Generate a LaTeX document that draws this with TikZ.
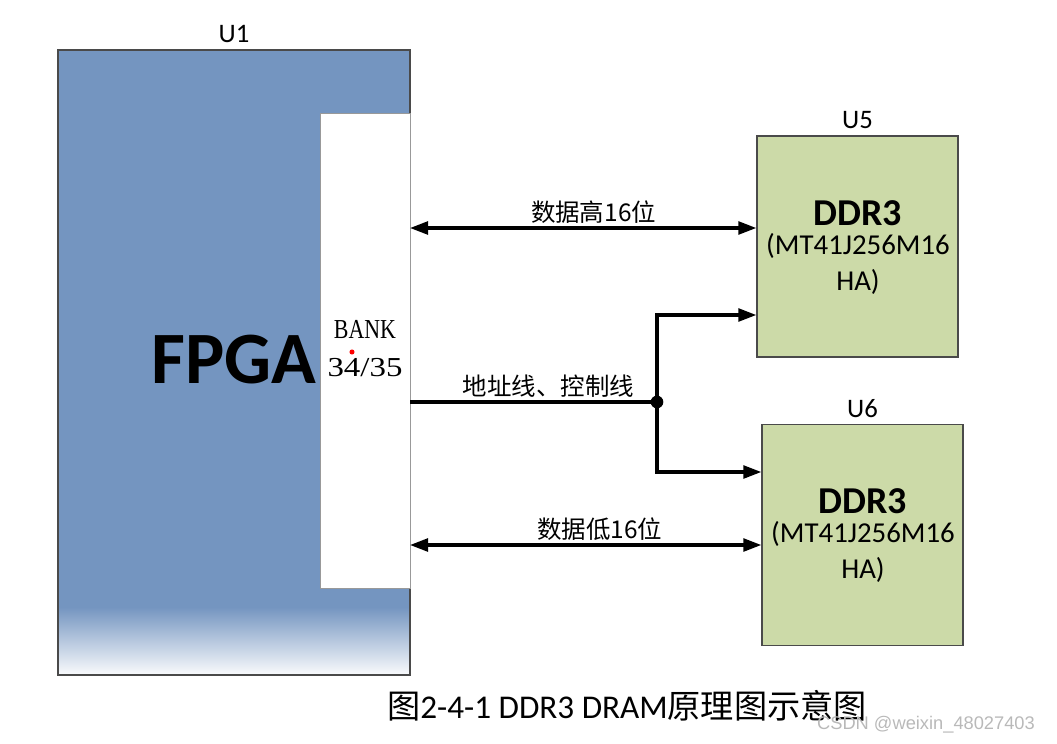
\documentclass[tikz,border=0pt]{standalone}
\usepackage{fontspec}
\setmainfont{Carlito}
\newfontfamily\cjk{Noto Sans CJK SC}
\newfontfamily\serifbank{Liberation Serif}
\newfontfamily\wmfont{Liberation Sans}
\usetikzlibrary{arrows.meta,positioning,calc}

\definecolor{fpgablue}{HTML}{7495C0}
\definecolor{ddrgreen}{HTML}{CCDAA8}
\definecolor{edgegray}{HTML}{4A4A4A}

\begin{document}
\begin{tikzpicture}[
    x=0.025cm, y=-0.025cm,
    chip/.style={draw=edgegray, line width=0.9pt, inner sep=0pt},
    ddr/.style={chip, fill=ddrgreen, minimum width=5.025cm, minimum height=5.525cm, align=center},
    tag/.style={font=\fontsize{19}{22}\selectfont},
    bus/.style={line width=2.2pt, {Triangle[length=4.5mm,width=3.2mm]}-{Triangle[length=4.5mm,width=3.2mm]}},
    ctl/.style={line width=2.2pt, -{Triangle[length=4.5mm,width=3.2mm]}},
    lbl/.style={font=\cjk\fontsize{17.4}{20}\selectfont, inner sep=2pt}
]
\useasboundingbox (0,0) rectangle (1057,743);

% FPGA body with fading bottom
\fill[fpgablue] (58,50) rectangle (410,608);
\shade[top color=fpgablue, bottom color=fpgablue!4] (58,607) rectangle (410,675);
\node[chip, draw=edgegray, fill=none, minimum width=8.8cm, minimum height=15.625cm] (fpga) at (234,362.5) {};
\node[tag, above=1pt of fpga.north] (u1) {U1};
\node[font=\bfseries\fontsize{52.5}{60}\selectfont] (fpgatxt) at (234,360) {FPGA};

% bank
\node[chip, draw=gray!80, fill=white, line width=0.6pt, minimum width=2.25cm, minimum height=11.875cm] (bank) at (365,350.5) {};
\node[font=\serifbank\fontsize{19.5}{27}\selectfont, align=center] (banktxt) at (365,349) {\scalebox{0.8}[1]{BANK}\\\scalebox{1.2}[1]{34/35}};
\fill[red] (352,352) circle (1.8pt);

% DDR3 chips
\node[ddr] (u5) at (857.5,246.5) {};
\node[ddr] (u6) at (862.5,535) {};
\node[tag, above=1pt of u5.north] (u5t) {U5};
\node[tag, above=1pt of u6.north] (u6t) {U6};
\node[font=\bfseries\fontsize{27}{30}\selectfont] (u5a) at (858,213) {DDR3};
\node[font=\fontsize{20.5}{24}\selectfont, align=center] (u5b) at (858,264) {(MT41J256M16\\[2pt]HA)};
\node[font=\bfseries\fontsize{27}{30}\selectfont] (u6a) at (863,501) {DDR3};
\node[font=\fontsize{20.5}{24}\selectfont, align=center] (u6b) at (863,552) {(MT41J256M16\\[2pt]HA)};

% buses
\coordinate (hi) at (410,228);
\coordinate (lo) at (410,545);
\coordinate (j) at (657,402);
\draw[bus] (hi) -- (u5.west |- hi) node[lbl, above, pos=0.53] {数据高16位};
\draw[bus] (lo) -- (u6.west |- lo) node[lbl, above, pos=0.54] {数据低16位};
\draw[line width=2.2pt] (bank.east |- j) -- (j) node[lbl, above, pos=0.56] {地址线、控制线};
\fill (j) circle (4.5pt);
\draw[ctl] (j) |- (u5.west |- 0,315);
\draw[ctl] (j) |- (u6.west |- 0,472);

% caption
\node[font=\fontsize{23.6}{28}\selectfont] (cap) at (627,706) {{\cjk 图}2-4-1 DDR3 DRAM{\cjk 原理图示意图}};
\node[font=\wmfont\fontsize{13}{14}\selectfont, text=gray!55] (wm) at (926,725) {CSDN @weixin\_48027403};
\end{tikzpicture}
\end{document}
